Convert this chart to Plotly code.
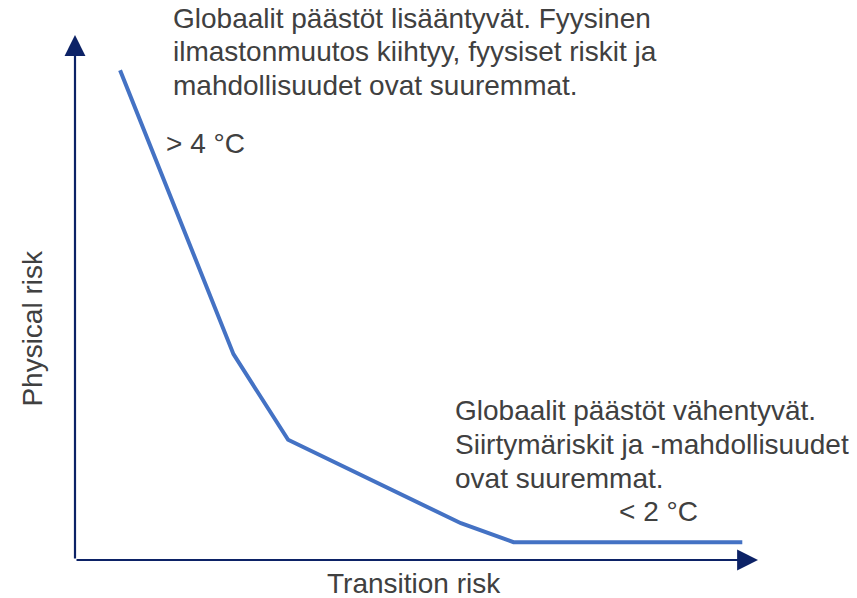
import plotly.graph_objects as go

# scenario curve: transition risk (x) vs physical risk (y), arbitrary 0-10 scale
transition_risk = [0.66, 2.32, 3.12, 5.65, 6.42, 9.77]
physical_risk = [9.33, 3.92, 2.29, 0.70, 0.34, 0.34]

top_text = [
    "Globaalit päästöt lisääntyvät. Fyysinen",
    "ilmastonmuutos kiihtyy, fyysiset riskit ja",
    "mahdollisuudet ovat suuremmat.",
]
bottom_text = [
    "Globaalit päästöt vähentyvät.",
    "Siirtymäriskit ja -mahdollisuudet",
    "ovat suuremmat.",
]
high_label = "> 4 °C"
low_label = "< 2 °C"
x_title = "Transition risk"
y_title = "Physical risk"

TEXT_COLOR = "#404040"
AXIS_COLOR = "#0c2266"
FONT = "Liberation Sans, Arial, sans-serif"
LINE_STEP = 0.064


def label(fig, x, y, text, anchor='left', angle=0):
    # x, y in paper fractions of the plot area
    fig.add_annotation(
        x=x, y=y, xref='paper', yref='paper', text=text, textangle=angle,
        showarrow=False, xanchor=anchor, yanchor='middle',
        font=dict(family=FONT, size=28, color=TEXT_COLOR),
    )


fig = go.Figure()

fig.add_trace(
    go.Scatter(
        x=transition_risk,
        y=physical_risk,
        mode='lines',
        line=dict(color='#4472C4', width=4),
        hoverinfo='skip',
        showlegend=False,
    )
)

# axis arrows
for tip in [(10, 0), (0, 10)]:
    fig.add_annotation(
        x=tip[0], y=tip[1], ax=0, ay=0,
        xref='x', yref='y', axref='x', ayref='y',
        showarrow=True, arrowhead=2, arrowsize=1.9, arrowwidth=2.2,
        arrowcolor=AXIS_COLOR, text="",
    )

for i, line in enumerate(top_text):
    label(fig, 0.141, 1.032 - i * LINE_STEP, line)

for i, line in enumerate(bottom_text):
    label(fig, 0.553, 0.284 - i * LINE_STEP, line)

label(fig, 0.130, 0.794, high_label)
label(fig, 0.855, 0.093, low_label, anchor='center')
label(fig, 0.496, -0.044, x_title, anchor='center')
label(fig, -0.062, 0.442, y_title, anchor='center', angle=-90)

fig.update_layout(
    width=857,
    height=598,
    margin=dict(l=75, r=99, t=35, b=38),
    paper_bgcolor='white',
    plot_bgcolor='white',
    xaxis=dict(range=[0, 10], visible=False, fixedrange=True),
    yaxis=dict(range=[0, 10], visible=False, fixedrange=True),
)

fig.write_html("out.html", config={'displayModeBar': False},
               post_script="document.body.style.margin='0';")
